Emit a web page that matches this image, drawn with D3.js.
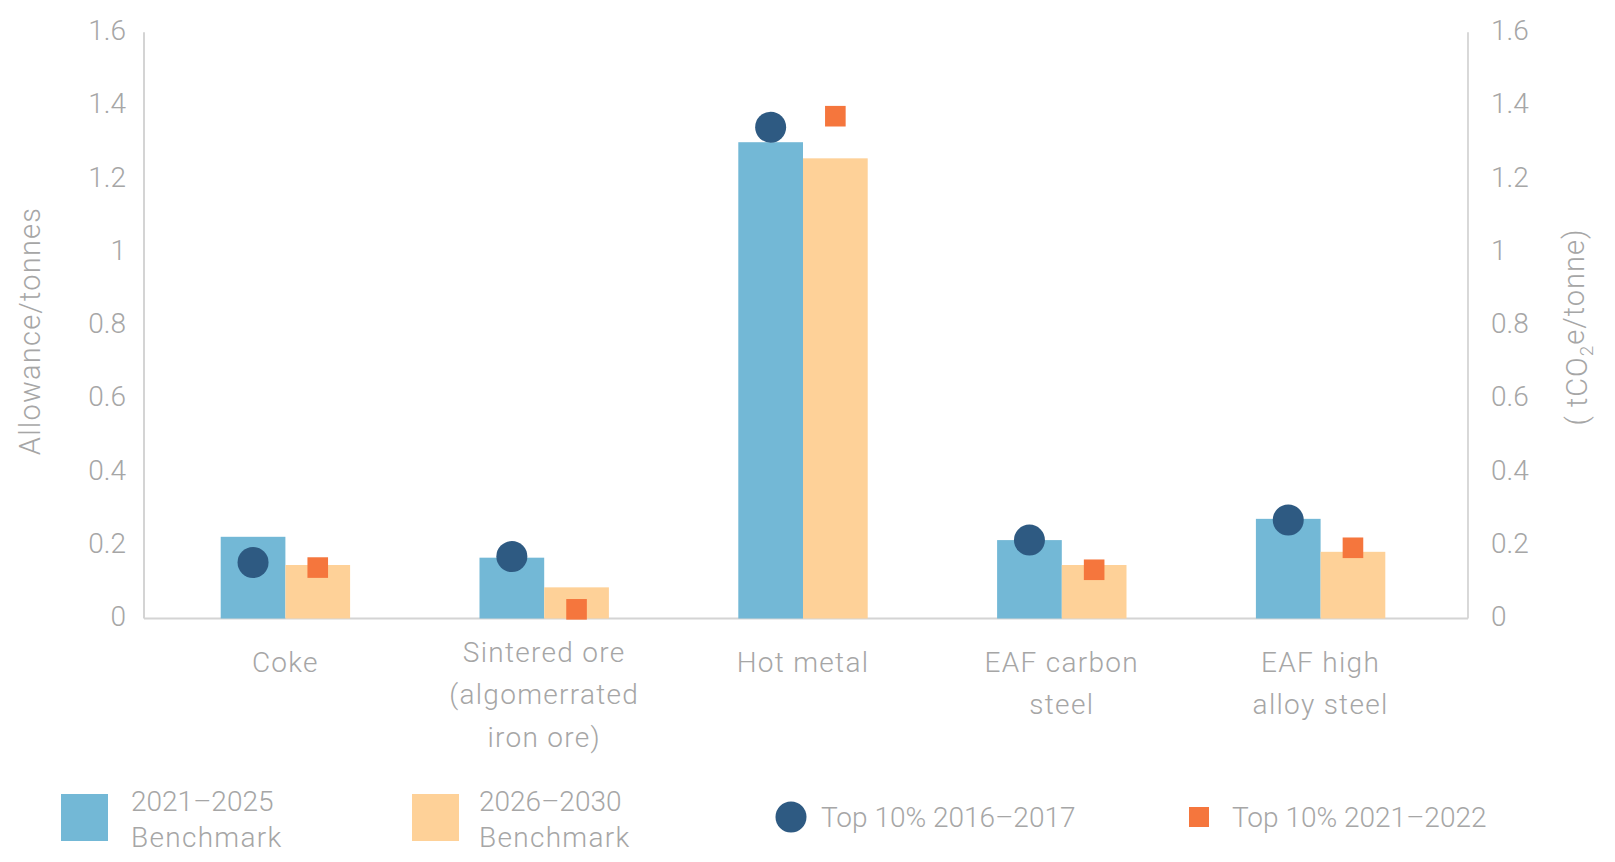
<!DOCTYPE html>
<html>
<head>
<meta charset="utf-8">
<script src="https://cdn.jsdelivr.net/npm/d3@7"></script>
<style>
  html, body { margin: 0; padding: 0; background: #fff; }
  svg text { font-family: Roboto, "Noto Sans", sans-serif; fill: #a6a6a6; }
</style>
</head>
<body>
<svg id="chart" width="1615" height="862"></svg>
<script>
const categories = ["Coke", "Sintered ore (algomerrated iron ore)", "Hot metal", "EAF carbon steel", "EAF high alloy steel"];
const categoryLines = [["Coke"], ["Sintered ore", "(algomerrated", "iron ore)"], ["Hot metal"], ["EAF carbon", "steel"], ["EAF high", "alloy steel"]];
const bench2021 = [0.223, 0.166, 1.300, 0.214, 0.272];
const bench2026 = [0.146, 0.085, 1.256, 0.146, 0.182];
const top2016 = [0.153, 0.169, 1.341, 0.214, 0.269];
const top2021 = [0.139, 0.025, 1.371, 0.133, 0.193];
const yTicks = [0, 0.2, 0.4, 0.6, 0.8, 1, 1.2, 1.4, 1.6];

const colBlue = "#73b8d6", colOrange = "#fed198", colCircle = "#2e5a82", colSquare = "#f5763d";
const svg = d3.select("#chart");

const axisLeftX = 144, axisRightX = 1468;
const x = d3.scaleBand().domain(categories).range([156, 1450]);
const y = d3.scaleLinear().domain([0, 1.6]).range([618.5, 32.3]);
const bw = x.bandwidth() * 0.25;

// axis lines
svg.append("line").attr("x1", axisLeftX).attr("x2", axisLeftX).attr("y1", y(1.6)).attr("y2", y(0))
  .attr("stroke", "#d4d4d4").attr("stroke-width", 2);
svg.append("line").attr("x1", axisRightX).attr("x2", axisRightX).attr("y1", y(1.6)).attr("y2", y(0))
  .attr("stroke", "#bfbfbf").attr("stroke-width", 1.2);
svg.append("line").attr("x1", axisLeftX).attr("x2", axisRightX).attr("y1", y(0)).attr("y2", y(0))
  .attr("stroke", "#d4d4d4").attr("stroke-width", 2);

// tick labels
const fmt = v => (v === 0 ? "0" : (v === 1 ? "1" : String(+v.toFixed(1))));
svg.append("g").selectAll("text").data(yTicks).join("text")
  .attr("x", axisLeftX - 18).attr("y", d => y(d) - 2).attr("dy", "0.35em")
  .attr("text-anchor", "end").attr("font-size", 28).attr("font-weight", 300).text(fmt);
svg.append("g").selectAll("text").data(yTicks).join("text")
  .attr("x", axisRightX + 23).attr("y", d => y(d) - 2).attr("dy", "0.35em")
  .attr("text-anchor", "start").attr("font-size", 28).attr("font-weight", 300).text(fmt);

// bars
const g = svg.append("g");
categories.forEach((c, i) => {
  const cx = x(c) + x.bandwidth() / 2;
  g.append("rect").attr("x", cx - bw).attr("width", bw)
    .attr("y", y(bench2021[i])).attr("height", y(0) - y(bench2021[i])).attr("fill", colBlue);
  g.append("rect").attr("x", cx).attr("width", bw)
    .attr("y", y(bench2026[i])).attr("height", y(0) - y(bench2026[i])).attr("fill", colOrange);
});
// markers
categories.forEach((c, i) => {
  const cx = x(c) + x.bandwidth() / 2;
  g.append("circle").attr("cx", cx - bw / 2).attr("cy", y(top2016[i])).attr("r", 15.5).attr("fill", colCircle);
  g.append("rect").attr("x", cx + bw / 2 - 10.3).attr("y", y(top2021[i]) - 10.3)
    .attr("width", 20.6).attr("height", 20.6).attr("fill", colSquare);
});

// category labels
categories.forEach((c, i) => {
  const cx = x(c) + x.bandwidth() / 2;
  const lines = categoryLines[i];
  const startY = lines.length === 3 ? 652 : 662;
  const step = lines.length === 3 ? 42.5 : 42;
  const t = svg.append("text").attr("text-anchor", "middle").attr("font-size", 28)
    .attr("font-weight", 300).attr("letter-spacing", 1.3);
  lines.forEach((l, j) => {
    t.append("tspan").attr("x", cx).attr("y", startY + j * step).attr("dy", "0.35em").text(l);
  });
});

// axis titles
svg.append("text").attr("transform", "translate(30,331) rotate(-90)")
  .attr("text-anchor", "middle").attr("dy", "0.35em").attr("font-size", 29)
  .attr("font-weight", 300).attr("letter-spacing", 1.2).text("Allowance/tonnes");
const rt = svg.append("text").attr("transform", "translate(1577,327) rotate(-90)")
  .attr("text-anchor", "middle").attr("dy", "0.35em").attr("font-size", 29)
  .attr("font-weight", 300).attr("letter-spacing", 1);
rt.append("tspan").text("( tCO");
rt.append("tspan").attr("font-size", 19).attr("dy", "0.3em").text("2");
rt.append("tspan").attr("dy", "-0.3em").text("e/tonne)");

// legend
const leg = svg.append("g").attr("font-weight", 300);
leg.append("rect").attr("x", 61).attr("y", 794).attr("width", 47).attr("height", 47).attr("fill", colBlue);
const l1 = leg.append("text").attr("font-size", 28);
l1.append("tspan").attr("x", 131).attr("y", 801).attr("dy", "0.35em").text("2021–2025");
l1.append("tspan").attr("x", 131).attr("y", 837).attr("dy", "0.35em").attr("letter-spacing", 1.3).text("Benchmark");
leg.append("rect").attr("x", 412).attr("y", 794).attr("width", 47).attr("height", 47).attr("fill", colOrange);
const l2 = leg.append("text").attr("font-size", 28);
l2.append("tspan").attr("x", 479).attr("y", 801).attr("dy", "0.35em").text("2026–2030");
l2.append("tspan").attr("x", 479).attr("y", 837).attr("dy", "0.35em").attr("letter-spacing", 1.3).text("Benchmark");
leg.append("circle").attr("cx", 791).attr("cy", 817).attr("r", 15.5).attr("fill", colCircle);
leg.append("text").attr("x", 821).attr("y", 817).attr("dy", "0.35em").attr("font-size", 28).text("Top 10% 2016–2017");
leg.append("rect").attr("x", 1189).attr("y", 807).attr("width", 20).attr("height", 20).attr("fill", colSquare);
leg.append("text").attr("x", 1232).attr("y", 817).attr("dy", "0.35em").attr("font-size", 28).text("Top 10% 2021–2022");
</script>
</body>
</html>
